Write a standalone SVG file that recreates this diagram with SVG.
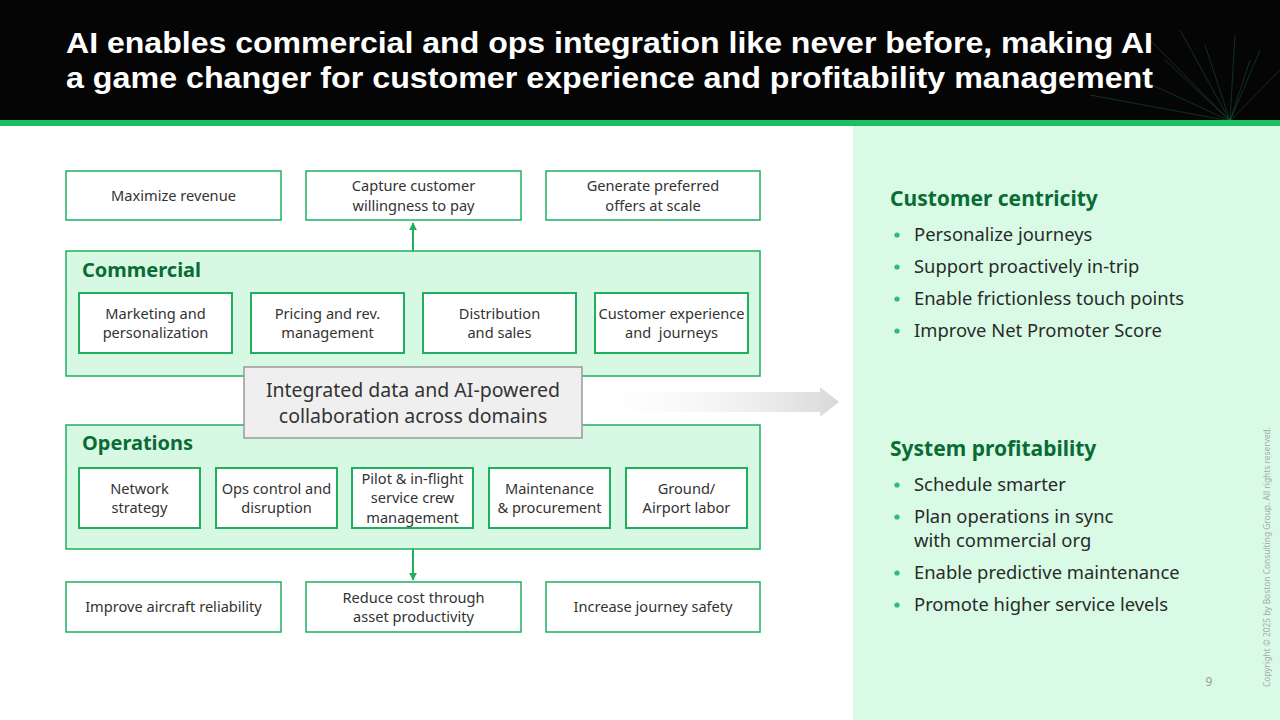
<svg xmlns="http://www.w3.org/2000/svg" width="1280" height="720" viewBox="0 0 1280 720">
<defs>
<style>
.title{font-family:"Liberation Sans",Arial,sans-serif;font-weight:700;font-size:29px;fill:#ffffff}
.box{fill:#ffffff;stroke:#1FAF5F;stroke-width:1.5}
.ibox{fill:#ffffff;stroke:#1FAF5F;stroke-width:2}
.grp{fill:#D7F9E4;stroke:#1FAF5F;stroke-width:1.5}
.t{font-family:"Noto Sans","Liberation Sans",sans-serif;font-size:14.6px;fill:#333333;text-anchor:middle}
.gt{font-family:"Noto Sans","Liberation Sans",sans-serif;font-weight:700;font-size:20px;fill:#0B6B35}
.ct{font-family:"Noto Sans","Liberation Sans",sans-serif;font-size:19.5px;fill:#333333;text-anchor:middle}
.h{font-family:"Noto Sans","Liberation Sans",sans-serif;font-weight:700;font-size:21px;fill:#0B6B35}
.b{font-family:"Noto Sans","Liberation Sans",sans-serif;font-size:18.4px;fill:#2a2a2a}
.dot{fill:#2DBE6C}
.conn{stroke:#1FAF5F;stroke-width:2;fill:none}
.fib{stroke:#3ED67E;stroke-width:0.6;opacity:0.35}
</style>
<marker id="ah" viewBox="0 0 10 10" refX="9" refY="5" markerWidth="4" markerHeight="4" orient="auto">
<path d="M0,0 L10,5 L0,10 z" fill="#1FAF5F"/>
</marker>
<linearGradient id="ga" x1="0" y1="0" x2="1" y2="0">
<stop offset="0" stop-color="#ffffff" stop-opacity="0"/>
<stop offset="1" stop-color="#D8D8D8"/>
</linearGradient>
</defs>

<g id="header">
<rect x="0" y="0" width="1280" height="121" fill="#050505"/>
<g id="fibers">
<line class="fib" x1="1230" y1="121" x2="1150" y2="40"/>
<line class="fib" x1="1230" y1="121" x2="1180" y2="30"/>
<line class="fib" x1="1230" y1="121" x2="1205" y2="45"/>
<line class="fib" x1="1230" y1="121" x2="1235" y2="35"/>
<line class="fib" x1="1230" y1="121" x2="1260" y2="50"/>
<line class="fib" x1="1230" y1="121" x2="1280" y2="70"/>
<line class="fib" x1="1230" y1="121" x2="1120" y2="70"/>
<line class="fib" x1="1230" y1="121" x2="1090" y2="95"/>
<line class="fib" x1="1230" y1="121" x2="1165" y2="60"/>
<line class="fib" x1="1230" y1="121" x2="1250" y2="60"/>
</g>
<text class="title" x="66" y="53" textLength="1087" lengthAdjust="spacingAndGlyphs">AI enables commercial and ops integration like never before, making AI</text>
<text class="title" x="66" y="88" textLength="1087" lengthAdjust="spacingAndGlyphs">a game changer for customer experience and profitability management</text>
<rect x="0" y="120" width="1280" height="6" fill="#1DC060"/>
</g>

<rect id="right-panel" x="853" y="126" width="427" height="594" fill="#D9FBE6"/>

<g id="connectors">
<polygon points="582,392 820,392 820,387 839,402 820,417 820,412 582,412" fill="url(#ga)"/>
<line class="conn" x1="413" y1="251" x2="413" y2="223" marker-end="url(#ah)"/>
<line class="conn" x1="413" y1="549" x2="413" y2="580" marker-end="url(#ah)"/>
</g>

<g id="out-maximize"><rect class="box" x="66" y="171" width="215" height="49"/><text class="t" x="173.5" y="201">Maximize revenue</text></g>
<g id="out-capture"><rect class="box" x="306" y="171" width="215" height="49"/><text class="t" x="413.5" y="191">Capture customer</text><text class="t" x="413.5" y="211">willingness to pay</text></g>
<g id="out-generate"><rect class="box" x="546" y="171" width="214" height="49"/><text class="t" x="653" y="191">Generate preferred</text><text class="t" x="653" y="211">offers at scale</text></g>

<g id="commercial">
<rect class="grp" x="66" y="251" width="694" height="125"/>
<text class="gt" x="82" y="277">Commercial</text>
</g>
<g id="c-marketing"><rect class="ibox" x="79" y="293" width="153" height="60"/><text class="t" x="155.5" y="319">Marketing and</text><text class="t" x="155.5" y="338">personalization</text></g>
<g id="c-pricing"><rect class="ibox" x="251" y="293" width="153" height="60"/><text class="t" x="327.5" y="319">Pricing and rev.</text><text class="t" x="327.5" y="338">management</text></g>
<g id="c-distribution"><rect class="ibox" x="423" y="293" width="153" height="60"/><text class="t" x="499.5" y="319">Distribution</text><text class="t" x="499.5" y="338">and sales</text></g>
<g id="c-cx"><rect class="ibox" x="595" y="293" width="153" height="60"/><text class="t" x="671.5" y="319">Customer experience</text><text class="t" x="671.5" y="338" style="white-space:pre">and  journeys</text></g>

<g id="operations">
<rect class="grp" x="66" y="425" width="694" height="124"/>
<text class="gt" x="82" y="450">Operations</text>
</g>

<g id="integrated">
<rect x="244" y="367" width="338" height="71" fill="#EFEFEF" stroke="#9A9A9A" stroke-width="1.5"/>
<text class="ct" x="413" y="397">Integrated data and AI-powered</text>
<text class="ct" x="413" y="423">collaboration across domains</text>
</g>

<g id="o-network"><rect class="ibox" x="79" y="468" width="121" height="60"/><text class="t" x="139.5" y="494">Network</text><text class="t" x="139.5" y="513">strategy</text></g>
<g id="o-opscontrol"><rect class="ibox" x="216" y="468" width="121" height="60"/><text class="t" x="276.5" y="494">Ops control and</text><text class="t" x="276.5" y="513">disruption</text></g>
<g id="o-crew"><rect class="ibox" x="352" y="468" width="121" height="60"/><text class="t" x="412.5" y="484">Pilot &amp; in-flight</text><text class="t" x="412.5" y="503">service crew</text><text class="t" x="412.5" y="523">management</text></g>
<g id="o-maintenance"><rect class="ibox" x="489" y="468" width="121" height="60"/><text class="t" x="549.5" y="494">Maintenance</text><text class="t" x="549.5" y="513">&amp; procurement</text></g>
<g id="o-ground"><rect class="ibox" x="626" y="468" width="121" height="60"/><text class="t" x="686.5" y="494">Ground/</text><text class="t" x="686.5" y="513">Airport labor</text></g>

<g id="out-reliability"><rect class="box" x="66" y="582" width="215" height="50"/><text class="t" x="173.5" y="612">Improve aircraft reliability</text></g>
<g id="out-cost"><rect class="box" x="306" y="582" width="215" height="50"/><text class="t" x="413.5" y="603">Reduce cost through</text><text class="t" x="413.5" y="622">asset productivity</text></g>
<g id="out-safety"><rect class="box" x="546" y="582" width="214" height="50"/><text class="t" x="653" y="612">Increase journey safety</text></g>

<g id="customer-centricity">
<text class="h" x="890" y="206">Customer centricity</text>
<circle class="dot" cx="897" cy="235" r="2.6"/><text class="b" x="914" y="241">Personalize journeys</text>
<circle class="dot" cx="897" cy="267" r="2.6"/><text class="b" x="914" y="273">Support proactively in-trip</text>
<circle class="dot" cx="897" cy="299" r="2.6"/><text class="b" x="914" y="305">Enable frictionless touch points</text>
<circle class="dot" cx="897" cy="331" r="2.6"/><text class="b" x="914" y="337">Improve Net Promoter Score</text>
</g>

<g id="system-profitability">
<text class="h" x="890" y="456">System profitability</text>
<circle class="dot" cx="897" cy="485" r="2.6"/><text class="b" x="914" y="491">Schedule smarter</text>
<circle class="dot" cx="897" cy="517" r="2.6"/><text class="b" x="914" y="523">Plan operations in sync</text>
<text class="b" x="914" y="547">with commercial org</text>
<circle class="dot" cx="897" cy="573" r="2.6"/><text class="b" x="914" y="579">Enable predictive maintenance</text>
<circle class="dot" cx="897" cy="605" r="2.6"/><text class="b" x="914" y="611">Promote higher service levels</text>
</g>

<text x="1209" y="686" font-family="Noto Sans, Liberation Sans, sans-serif" font-size="12" fill="#9A9A9A" text-anchor="middle">9</text>
<text transform="translate(1270,687) rotate(-90)" font-family="Noto Sans, Liberation Sans, sans-serif" font-size="8.4" fill="#A8A8A8">Copyright © 2025 by Boston Consulting Group. All rights reserved.</text>
</svg>
